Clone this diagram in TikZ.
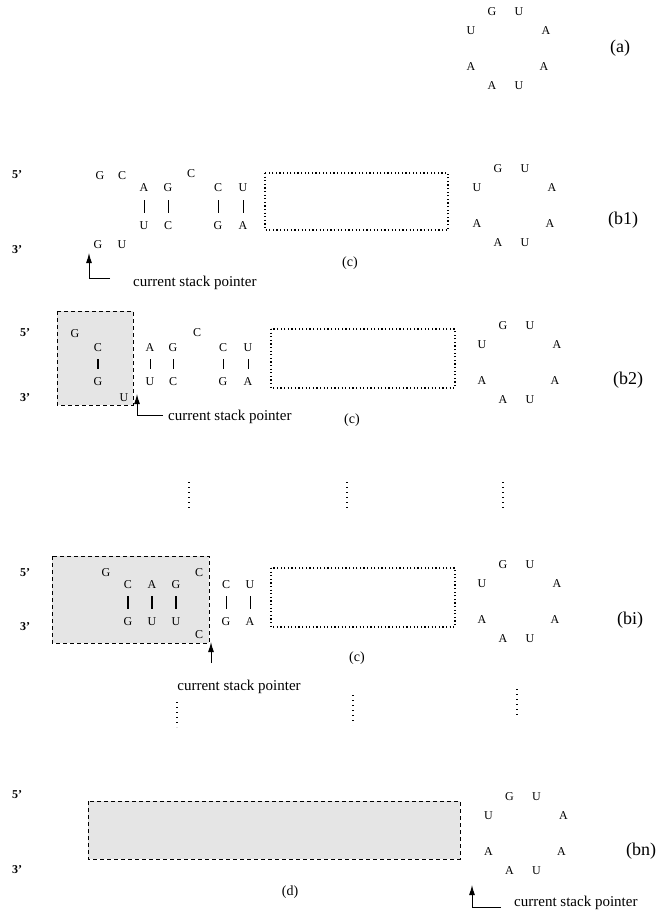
\documentclass[tikz,border=0pt]{standalone}
\usepackage{fontspec}
\setmainfont{Liberation Serif}
\usetikzlibrary{arrows.meta}

% hairpin loop: #1 name prefix, #2 #3 centre
\newcommand{\hairpin}[3]{%
  \node[nt] (#1g) at (#2-13.5,#3-37) {G};
  \node[nt] (#1u) at (#2+13.5,#3-37) {U};
  \node[nt] (#1ul) at (#2-34.5,#3-18) {U};
  \node[nt] (#1ar) at (#2+40.5,#3-18) {A};
  \node[nt] (#1al) at (#2-34.5,#3+18) {A};
  \node[nt] (#1a) at (#2+38.5,#3+18) {A};
  \node[nt] (#1ab) at (#2-13.5,#3+37) {A};
  \node[nt] (#1ub) at (#2+13.5,#3+37) {U};
}

\begin{document}
\begin{tikzpicture}[x=1pt,y=-1pt,
  nt/.style={font=\fontsize{12}{14}\selectfont,inner sep=2pt,text height=8pt,text depth=0pt},
  strand/.style={font=\fontsize{12}{14}\selectfont\bfseries,inner sep=1pt},
  tag/.style={font=\fontsize{18}{20}\selectfont,inner sep=1pt},
  part/.style={font=\fontsize{14}{16}\selectfont,inner sep=1pt},
  note/.style={font=\fontsize{15}{18}\selectfont,inner sep=0pt},
  bond/.style={line width=0.6pt,shorten <=6pt,shorten >=6pt},
  strongbond/.style={bond,line width=2pt},
  openbox/.style={line width=1.2pt,dash pattern=on 1.2pt off 2.4pt},
  donebox/.style={fill=gray!20,line width=0.9pt,dash pattern=on 4pt off 3pt},
  dotcol/.style={line width=1.2pt,dash pattern=on 1pt off 4pt},
  ptr/.style={-{Latex[length=10pt,width=6pt]},line width=1pt}]
\useasboundingbox (0,0) rectangle (656,920);

% (a)
\hairpin{ah}{505.5}{48.5}
\node[tag] (atag) at (620,48) {(a)};

% (b1)
\node[strand] (b1five) at (17,175) {5'};
\node[strand] (b1three) at (17,250) {3'};
\node[nt] (b1g1) at (100,175) {G};
\node[nt] (b1c1) at (122,175) {C};
\node[nt] (b1a2) at (144,188) {A};
\node[nt] (b1g2) at (168,188) {G};
\node[nt] (b1c3) at (191,174) {C};
\node[nt] (b1c4) at (218,188) {C};
\node[nt] (b1u4) at (243,188) {U};
\node[nt] (b1u5) at (144,225) {U};
\node[nt] (b1c5) at (168,225) {C};
\node[nt] (b1g6) at (218,225) {G};
\node[nt] (b1a6) at (243,225) {A};
\node[nt] (b1g7) at (98,244) {G};
\node[nt] (b1u7) at (122,244) {U};
\draw[bond] (b1a2) -- (b1u5);
\draw[bond] (b1g2) -- (b1c5);
\draw[bond] (b1c4) -- (b1g6);
\draw[bond] (b1u4) -- (b1a6);
\draw[openbox] (265,173) rectangle (448,230);
\node[part] (b1part) at (350,263) {(c)};
\hairpin{b1h}{511.5}{205.5}
\node[tag] (b1tag) at (623,220) {(b1)};
\coordinate (b1tip) at (89,253);
\coordinate (b1foot) at (110,278);
\draw[ptr] (b1foot) -| (b1tip);
\node[note,anchor=west] (b1note) at (133,283) {current stack pointer};

% (b2)
\draw[donebox] (57,311) rectangle (133,405);
\node[strand] (b2five) at (25,333) {5'};
\node[strand] (b2three) at (25,398) {3'};
\node[nt] (b2g1) at (75,333) {G};
\node[nt] (b2c2) at (98,347) {C};
\node[nt] (b2g2) at (98,381) {G};
\node[nt] (b2u1) at (124,397) {U};
\draw[strongbond] (b2c2) -- (b2g2);
\node[nt] (b2a3) at (150,347) {A};
\node[nt] (b2g3) at (173,347) {G};
\node[nt] (b2c4) at (197,332) {C};
\node[nt] (b2c5) at (223,347) {C};
\node[nt] (b2u5) at (248,347) {U};
\node[nt] (b2u6) at (150,381) {U};
\node[nt] (b2c6) at (173,381) {C};
\node[nt] (b2g7) at (223,381) {G};
\node[nt] (b2a7) at (248,381) {A};
\draw[bond] (b2a3) -- (b2u6);
\draw[bond] (b2g3) -- (b2c6);
\draw[bond] (b2c5) -- (b2g7);
\draw[bond] (b2u5) -- (b2a7);
\draw[openbox] (271,329) rectangle (455,388);
\node[part] (b2part) at (352,420) {(c)};
\hairpin{b2h}{516.5}{362}
\node[tag] (b2tag) at (628,380) {(b2)};
\coordinate (b2tip) at (137,394);
\coordinate (b2foot) at (163,415);
\draw[ptr] (b2foot) -| (b2tip);
\node[note,anchor=west] (b2note) at (168,417) {current stack pointer};

% skipped rows
\draw[dotcol] (189,482) -- (189,508);
\draw[dotcol] (347,482) -- (347,508);
\draw[dotcol] (503,482) -- (503,508);

% (bi)
\draw[donebox] (52,556) rectangle (209,643);
\node[strand] (bifive) at (25,573) {5'};
\node[strand] (bithree) at (25,627) {3'};
\node[nt] (big1) at (106,572) {G};
\node[nt] (bic2) at (128,584) {C};
\node[nt] (bia2) at (152,584) {A};
\node[nt] (big2) at (176,584) {G};
\node[nt] (big3) at (128,621) {G};
\node[nt] (biu3) at (152,621) {U};
\node[nt] (biu4) at (176,621) {U};
\node[nt] (bic1) at (199,572) {C};
\node[nt] (bic5) at (199,634) {C};
\draw[strongbond] (bic2) -- (big3);
\draw[strongbond] (bia2) -- (biu3);
\draw[strongbond] (big2) -- (biu4);
\node[nt] (bic6) at (226,584) {C};
\node[nt] (biu6) at (250,584) {U};
\node[nt] (big7) at (226,621) {G};
\node[nt] (bia7) at (250,621) {A};
\draw[bond] (bic6) -- (big7);
\draw[bond] (biu6) -- (bia7);
\draw[openbox] (271,568) rectangle (455,627);
\node[part] (bipart) at (357,658) {(c)};
\hairpin{bih}{516.5}{601}
\node[tag] (bitag) at (630,620) {(bi)};
\coordinate (bitip) at (211,642);
\coordinate (bifoot) at (211,663);
\draw[ptr] (bifoot) -- (bitip);
\node[note] (binote) at (239,687) {current stack pointer};

% skipped rows
\draw[dotcol] (177,702) -- (177,727);
\draw[dotcol] (353,695) -- (353,722);
\draw[dotcol] (517,689) -- (517,715);

% (bn)
\draw[donebox] (88,801) rectangle (460,859);
\node[strand] (bnfive) at (17,795) {5'};
\node[strand] (bnthree) at (17,870) {3'};
\node[part] (bnpart) at (290,892) {(d)};
\hairpin{bnh}{523}{833.5}
\node[tag] (bntag) at (641,851) {(bn)};
\coordinate (bntip) at (472,885);
\coordinate (bnfoot) at (501,907);
\draw[ptr] (bnfoot) -| (bntip);
\node[note,anchor=west] (bnnote) at (514,903) {current stack pointer};
\end{tikzpicture}
\end{document}
